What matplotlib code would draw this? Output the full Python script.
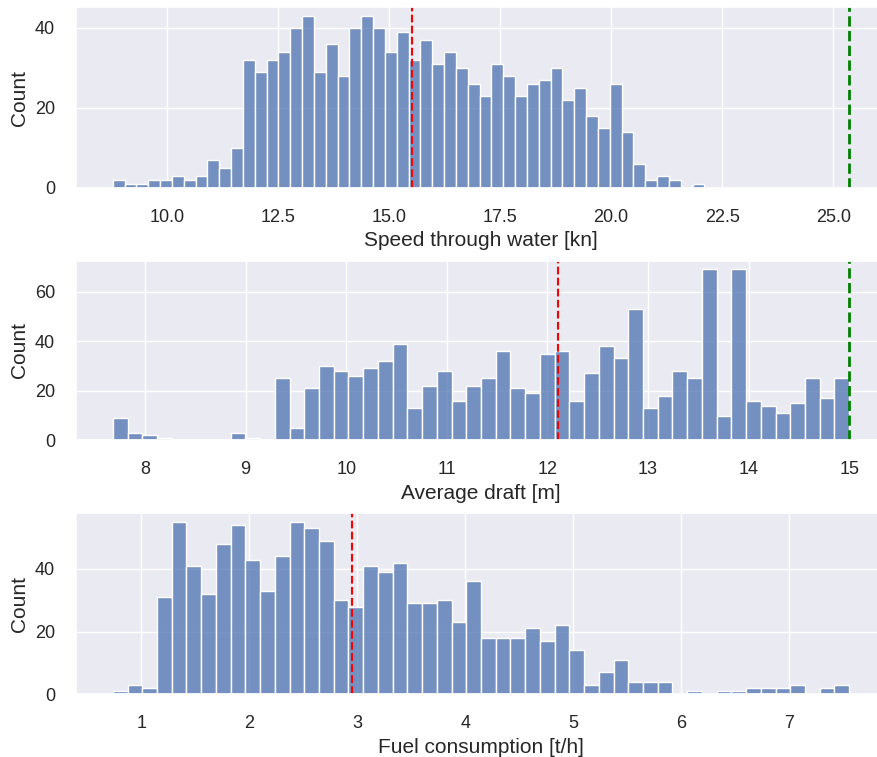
import numpy as np
import pandas as pd
import matplotlib
matplotlib.use('Agg')
import matplotlib.pyplot as plt
from matplotlib.ticker import MultipleLocator
import seaborn as sns

# bin counts (50 bins each)
speed_counts = [2, 1, 1, 2, 2, 3, 2, 3, 7, 5, 10, 32, 29, 32, 34, 40, 43, 29, 36, 28,
                40, 43, 40, 34, 39, 32, 37, 31, 34, 30, 26, 23, 31, 28, 23, 26, 27, 30, 22, 25,
                18, 15, 26, 14, 6, 2, 3, 2, 0, 1]
speed_range = (8.78, 22.1)
speed_mean = 15.52
speed_max = 25.36

draft_counts = [9, 3, 2, 1, 0, 0, 0, 0, 3, 1, 0, 25, 5, 21, 30, 28, 26, 29,
                32, 39, 13, 22, 28, 16, 22, 25, 36, 21, 19, 35, 36, 16, 27, 38, 33, 53, 13, 18,
                28, 25, 69, 10, 69, 16, 14, 11, 15, 25, 17, 25]
draft_range = (7.68, 15.0)
draft_mean = 12.11
draft_max = 15.0

fuel_counts = [1, 3, 2, 31, 55, 41, 32, 48, 54, 43, 33, 44, 55, 53, 49, 30, 28, 41,
               39, 42, 29, 29, 30, 23, 36, 18, 18, 18, 21, 17, 22, 14, 3, 7, 11, 4, 4, 4,
               0, 1, 0, 1, 1, 2, 2, 2, 3, 0, 2, 3]
fuel_range = (0.735, 7.553)
fuel_mean = 2.95

sns.set_theme()
plt.rcParams['font.family'] = ['Liberation Sans', 'DejaVu Sans']
plt.rcParams['xtick.labelsize'] = 13
plt.rcParams['ytick.labelsize'] = 13
plt.rcParams['axes.labelsize'] = 15
plt.rcParams['xtick.major.pad'] = 9
plt.rcParams['ytick.major.pad'] = 9

fig = plt.figure(figsize=(8.77, 7.57), dpi=100)
left = 76 / 877
width = 810 / 877
ax1 = fig.add_axes([left, 569 / 757, width, 180.7 / 757])
ax2 = fig.add_axes([left, 316.7 / 757, width, 179.6 / 757])
ax3 = fig.add_axes([left, 62.7 / 757, width, 181 / 757])


def hist(ax, counts, rng):
    edges = np.linspace(rng[0], rng[1], len(counts) + 1)
    df = pd.DataFrame({'x': (edges[:-1] + edges[1:]) / 2, 'w': counts})
    sns.histplot(data=df, x='x', weights='w', bins=list(edges), ax=ax)
    ax.set_ylabel('Count')
    ax.yaxis.set_major_locator(MultipleLocator(20))


hist(ax1, speed_counts, speed_range)
ax1.axvline(speed_mean, color='red', ls='--')
ax1.axvline(speed_max, color='green', ls='--', lw=2)
ax1.set_xlabel('Speed through water [kn]')

hist(ax2, draft_counts, draft_range)
ax2.axvline(draft_mean, color='red', ls='--')
ax2.axvline(draft_max, color='green', ls='--', lw=2)
ax2.set_xlabel('Average draft [m]')

hist(ax3, fuel_counts, fuel_range)
ax3.axvline(fuel_mean, color='red', ls='--')
ax3.set_xlabel('Fuel consumption [t/h]')

fig.savefig('out.png', dpi=100)
